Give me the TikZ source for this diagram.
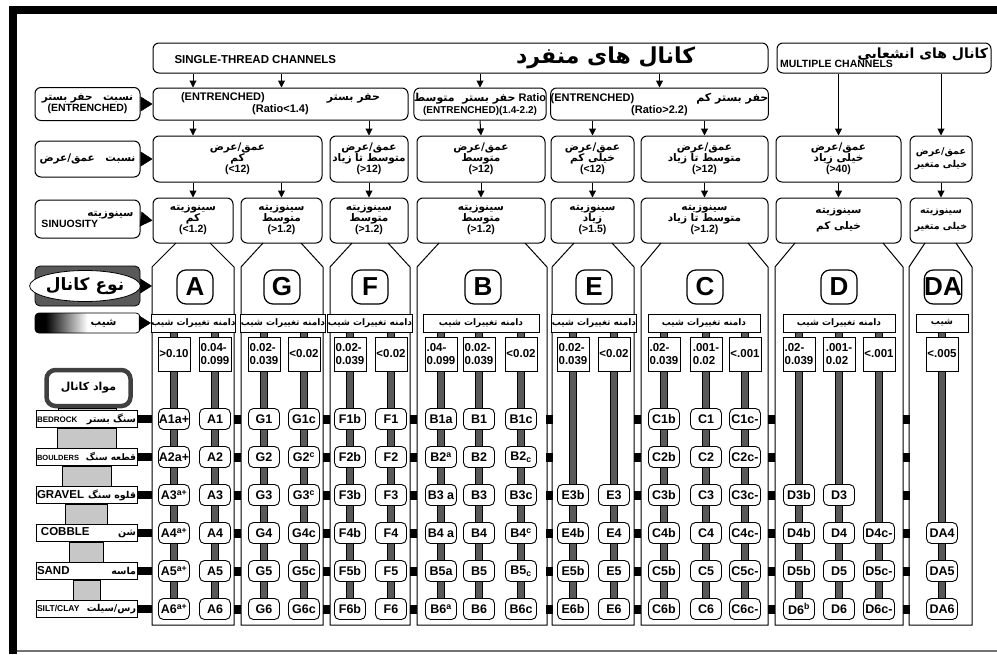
\documentclass[tikz,border=0pt]{standalone}
\usepackage{fontspec}
\setmainfont{Liberation Sans}
\newfontfamily\persianfont[Script=Arabic]{DejaVu Sans}
\TeXXeTstate=1
\newcommand{\prs}[1]{{\persianfont\beginR #1\endR}}
\usetikzlibrary{arrows.meta,positioning,shapes.geometric,backgrounds}
\pgfdeclarehorizontalshading{slopefade}{100bp}{color(0bp)=(black); color(30bp)=(black); color(50bp)=(white); color(100bp)=(white)}
\tikzset{
head_box/.style={draw, rounded corners=6pt, line width=1pt, minimum height=30pt, inner sep=0pt, align=center},
crit_box/.style={draw, rounded corners=6pt, line width=1pt, align=center, inner sep=0pt, font=\bfseries\fontsize{10.5}{11}\selectfont},
side_box/.style={draw, rounded corners=6pt, line width=1pt, minimum width=105pt, align=center, inner sep=0pt, font=\bfseries\fontsize{10.5}{11}\selectfont},
type_letter/.style={draw, rounded corners=9pt, line width=1.2pt, fill=white, minimum width=36pt, minimum height=34pt, inner sep=0pt, font=\bfseries\fontsize{26}{26}\selectfont},
range_box/.style={draw, line width=0.9pt, fill=white, minimum height=18pt, inner sep=0pt, font=\bfseries\fontsize{9}{9}\selectfont},
slope_box/.style={draw, line width=0.9pt, fill=white, minimum width=32pt, minimum height=34pt, inner sep=0pt, align=left, font=\bfseries\fontsize{11.5}{13}\selectfont},
stream_item/.style={draw, rounded corners=5pt, line width=0.9pt, fill=white, minimum width=31pt, minimum height=21pt, inner sep=0pt, font=\bfseries\fontsize{12.5}{12.5}\selectfont},
material/.style={draw, line width=0.9pt, fill=white, text width=99pt, minimum height=17pt, inner sep=1pt, align=left, font=\bfseries\fontsize{9.5}{10}\selectfont},
stem/.style={draw=black, line width=0.6pt, double=black!65, double distance=6pt},
gray_col/.style={draw, line width=0.6pt, fill=black!22},
arr/.style={-{Triangle[length=7pt,width=7pt]}, line width=1pt},
pointer/.style={-{Triangle[length=12pt,width=15pt]}, line width=0.5pt},
link_bar/.style={line width=8pt},
panel/.style={line width=1pt}
}

\begin{document}
\begin{tikzpicture}[x=1pt, y=-1pt, font=\bfseries]
    \useasboundingbox (0,0) rectangle (997,654);
    % frame
    \fill (10,6) rectangle (997,14);
    \fill (9,6) rectangle (17,654);
    \draw[black!55, line width=1.5pt] (17,651) -- (997,651);

    % channel groups
    \node[head_box, minimum width=615pt] (single) at (460.5,58) {\makebox[590pt][l]{\hspace*{9pt}\fontsize{11.5}{12}\selectfont SINGLE-THREAD CHANNELS\hspace{180pt}\fontsize{22}{22}\selectfont\prs{کانال های منفرد}}};
    \node[head_box, minimum width=214pt, right=8pt of single] (multi) {\makebox[208pt][r]{\fontsize{14}{14}\selectfont\prs{کانال های انشعابی}}\\[-3pt]\makebox[208pt][l]{\fontsize{10.5}{11}\selectfont MULTIPLE CHANNELS}};

    % entrenchment
    \node[side_box, minimum height=33pt] (lab_ent) at (87.5,104) {\prs{نسبت\quad حفر بستر}\\(ENTRENCHED)};
    \node[crit_box, minimum width=255pt, minimum height=32pt, font=\bfseries\fontsize{11}{12}\selectfont] (ent_1) at (280.5,104) {(ENTRENCHED)\hspace{62pt}\prs{حفر بستر}\\(Ratio<1.4)};
    \node[crit_box, minimum width=130pt, minimum height=32pt, font=\bfseries\fontsize{11}{12}\selectfont] (ent_2) at (480,104) {\prs{حفر بستر\ \ متوسط} Ratio\\{\fontsize{10}{11}\selectfont(ENTRENCHED)(1.4-2.2)}};
    \node[crit_box, minimum width=217pt, minimum height=32pt, font=\bfseries\fontsize{11}{12}\selectfont] (ent_3) at (659.5,104) {(ENTRENCHED)\hspace{62pt}\prs{حفر بستر کم}\\(Ratio>2.2)};

    % width / depth
    \node[side_box, minimum height=36pt] (lab_wd) at (87.5,159) {\prs{نسبت\quad عمق/عرض}};
    \node[crit_box, minimum width=169pt, minimum height=46pt] (wd_1) at (237.5,159) {\prs{عمق/عرض}\\\prs{کم}\\(<12)};
    \node[crit_box, minimum width=78pt, minimum height=46pt] (wd_2) at (369,159) {\prs{عمق/عرض}\\\prs{متوسط تا زیاد}\\(>12)};
    \node[crit_box, minimum width=128pt, minimum height=46pt] (wd_3) at (481,159) {\prs{عمق/عرض}\\\prs{متوسط}\\(>12)};
    \node[crit_box, minimum width=83pt, minimum height=46pt] (wd_4) at (592.5,159) {\prs{عمق/عرض}\\\prs{خیلی کم}\\(<12)};
    \node[crit_box, minimum width=127pt, minimum height=46pt] (wd_5) at (704.5,159) {\prs{عمق/عرض}\\\prs{متوسط تا زیاد}\\(>12)};
    \node[crit_box, minimum width=125pt, minimum height=46pt] (wd_6) at (838.5,159) {\prs{عمق/عرض}\\\prs{خیلی زیاد}\\(>40)};
    \node[crit_box, minimum width=62pt, minimum height=46pt, font=\bfseries\fontsize{9.5}{13}\selectfont] (wd_7) at (941,159) {\prs{عمق/عرض}\\\prs{خیلی متغیر}};

    % sinuosity
    \node[side_box, minimum height=38pt] (lab_sin) at (87.5,219) {\makebox[92pt][r]{\prs{سینوزیته}}\\\makebox[92pt][l]{SINUOSITY}};
    \node[crit_box, minimum width=80pt, minimum height=45pt] (sin_1) at (193,220.5) {\prs{سینوزیته}\\\prs{کم}\\(<1.2)};
    \node[crit_box, minimum width=81pt, minimum height=45pt] (sin_2) at (281.5,220.5) {\prs{سینوزیته}\\\prs{متوسط}\\(>1.2)};
    \node[crit_box, minimum width=78pt, minimum height=45pt] (sin_3) at (369,220.5) {\prs{سینوزیته}\\\prs{متوسط}\\(>1.2)};
    \node[crit_box, minimum width=128pt, minimum height=45pt] (sin_4) at (481,220.5) {\prs{سینوزیته}\\\prs{متوسط}\\(>1.2)};
    \node[crit_box, minimum width=83pt, minimum height=45pt] (sin_5) at (592.5,220.5) {\prs{سینوزیته}\\\prs{زیاد}\\(>1.5)};
    \node[crit_box, minimum width=127pt, minimum height=45pt] (sin_6) at (704.5,220.5) {\prs{سینوزیته}\\\prs{متوسط تا زیاد}\\(>1.2)};
    \node[crit_box, minimum width=125pt, minimum height=45pt] (sin_7) at (838.5,220.5) {\prs{سینوزیته}\\[5pt]\prs{خیلی کم}};
    \node[crit_box, minimum width=62pt, minimum height=45pt, font=\bfseries\fontsize{9.5}{11}\selectfont] (sin_8) at (941,220.5) {\prs{سینوزیته}\\[5pt]\prs{خیلی متغیر}};

    % arrows between levels
    \draw[arr] (single.south -| sin_1) -- (ent_1.north -| sin_1);
    \draw[arr] (single.south -| sin_2) -- (ent_1.north -| sin_2);
    \draw[arr] (single.south -| ent_2) -- (ent_2.north);
    \draw[arr] (single.south -| ent_3) -- (ent_3.north);
    \draw[arr] (multi.south -| wd_6) -- (wd_6.north);
    \draw[arr] (multi.south -| wd_7) -- (wd_7.north);
    \draw[arr] (ent_1.south -| sin_1) -- (wd_1.north -| sin_1);
    \draw[arr] (ent_1.south -| wd_2) -- (wd_2.north);
    \draw[arr] (ent_2.south) -- (wd_3.north);
    \draw[arr] (ent_3.south -| wd_4) -- (wd_4.north);
    \draw[arr] (ent_3.south -| wd_5) -- (wd_5.north);
    \draw[arr] (wd_1.south -| sin_1) -- (sin_1.north);
    \draw[arr] (wd_1.south -| sin_2) -- (sin_2.north);
    \foreach \w/\s in {2/3,3/4,4/5,5/6,6/7,7/8}
        \draw[arr] (wd_\w.south -| sin_\s) -- (sin_\s.north);
    \draw[pointer] (lab_ent.east) -- (ent_1.west);
    \draw[pointer] (lab_wd.east) -- (wd_1.west);
    \draw[pointer] (lab_sin.east) -- (sin_1.west);

    % channel type panels
    \foreach \l/\r/\d in {152/234/24, 241/323/22, 330/410/22, 417/547/22, 552/634/22, 641/768/20, 775/903/20, 909/972/16}
        \draw[panel] (\l+\d,243) -- (\l,267) -- (\l,625) -- (\r,625) -- (\r,267) -- (\r-\d,243);
    \coordinate (pa_l) at (152,419);

    \node[type_letter] (typ_a) at (195,287) {A};
    \node[type_letter] (typ_g) at (282,287) {G};
    \node[type_letter] (typ_f) at (370,287) {F};
    \node[type_letter] (typ_b) at (483,287) {B};
    \node[type_letter] (typ_e) at (594,287) {E};
    \node[type_letter] (typ_c) at (705,287) {C};
    \node[type_letter] (typ_d) at (839,287) {D};
    \node[type_letter] (typ_da) at (943,287) {DA};

    \node[range_box, minimum width=73pt] (rng_a) at (193.5,323) {\prs{دامنه تغییرات شیب}};
    \node[range_box, minimum width=74pt] (rng_g) at (283,323) {\prs{دامنه تغییرات شیب}};
    \node[range_box, minimum width=72pt] (rng_f) at (370,323) {\prs{دامنه تغییرات شیب}};
    \node[range_box, minimum width=116pt] (rng_b) at (481,323) {\prs{دامنه تغییرات شیب}};
    \node[range_box, minimum width=74pt] (rng_e) at (594,323) {\prs{دامنه تغییرات شیب}};
    \node[range_box, minimum width=112pt] (rng_c) at (704,323) {\prs{دامنه تغییرات شیب}};
    \node[range_box, minimum width=112pt] (rng_d) at (839,323) {\prs{دامنه تغییرات شیب}};
    \node[range_box, minimum width=52pt] (rng_da) at (942,323) {\prs{شیب}};

    \node[slope_box] (sl_a1) at (174,354) {>0.10};
    \node[slope_box] (sl_a2) at (215,354) {0.04-\\0.099};
    \node[slope_box] (sl_g1) at (264,354) {0.02-\\0.039};
    \node[slope_box] (sl_g2) at (304,354) {<0.02};
    \node[slope_box] (sl_f1) at (350,354) {0.02-\\0.039};
    \node[slope_box] (sl_f2) at (391,354) {<0.02};
    \node[slope_box] (sl_b1) at (441,354) {.04-\\0.099};
    \node[slope_box] (sl_b2) at (479,354) {0.02-\\0.039};
    \node[slope_box] (sl_b3) at (521,354) {<0.02};
    \node[slope_box] (sl_e1) at (573,354) {0.02-\\0.039};
    \node[slope_box] (sl_e2) at (614,354) {<0.02};
    \node[slope_box] (sl_c1) at (664,354) {.02-\\0.039};
    \node[slope_box] (sl_c2) at (706,354) {.001-\\0.02};
    \node[slope_box] (sl_c3) at (745,354) {<.001};
    \node[slope_box] (sl_d1) at (799,354) {.02-\\0.039};
    \node[slope_box] (sl_d2) at (839,354) {.001-\\0.02};
    \node[slope_box] (sl_d3) at (879,354) {<.001};
    \node[slope_box] (sl_da) at (942,354) {<.005};

    % stream types
    \foreach \r/\t in {1/A1a+, 2/A2a+, 3/A3\textsuperscript{a+}, 4/A4\textsuperscript{a+}, 5/A5\textsuperscript{a+}, 6/A6\textsuperscript{a+}}
        \node[stream_item] (a1_\r) at (174,{381+38*\r}) {\t};
    \foreach \r in {1,...,6} {
        \node[stream_item] (a2_\r) at (215,{381+38*\r}) {A\r};
        \node[stream_item] (g1_\r) at (264,{381+38*\r}) {G\r};
        \node[stream_item] (f1_\r) at (350,{381+38*\r}) {F\r b};
        \node[stream_item] (f2_\r) at (391,{381+38*\r}) {F\r};
        \node[stream_item] (b2_\r) at (479,{381+38*\r}) {B\r};
        \node[stream_item] (c1_\r) at (664,{381+38*\r}) {C\r b};
        \node[stream_item] (c2_\r) at (706,{381+38*\r}) {C\r};
        \node[stream_item] (c3_\r) at (745,{381+38*\r}) {C\r c-};
    }
    \foreach \r/\t in {1/G1c, 2/G2\textsuperscript{c}, 3/G3\textsuperscript{c}, 4/G4c, 5/G5c, 6/G6c}
        \node[stream_item] (g2_\r) at (304,{381+38*\r}) {\t};
    \foreach \r/\t in {1/B1a, 2/B2\textsuperscript{a}, 3/B3 a, 4/B4 a, 5/B5a, 6/B6\textsuperscript{a}}
        \node[stream_item] (b1_\r) at (441,{381+38*\r}) {\t};
    \foreach \r/\t in {1/B1c, 2/B2\textsubscript{c}, 3/B3c, 4/B4\textsuperscript{c}, 5/B5\textsubscript{c}, 6/B6c}
        \node[stream_item] (b3_\r) at (521,{381+38*\r}) {\t};
    \foreach \r in {3,...,6} {
        \node[stream_item] (e1_\r) at (573,{381+38*\r}) {E\r b};
        \node[stream_item] (e2_\r) at (614,{381+38*\r}) {E\r};
        \node[stream_item] (d2_\r) at (839,{381+38*\r}) {D\r};
    }
    \foreach \r/\t in {3/D3b, 4/D4b, 5/D5b, 6/D6\textsuperscript{b}}
        \node[stream_item] (d1_\r) at (799,{381+38*\r}) {\t};
    \foreach \r in {4,5,6} {
        \node[stream_item] (d3_\r) at (879,{381+38*\r}) {D\r c-};
        \node[stream_item] (da_\r) at (942,{381+38*\r}) {DA\r};
    }

    \begin{scope}[on background layer]
        \foreach \s/\g in {a1/a, a2/a, g1/g, g2/g, f1/f, f2/f, b1/b, b2/b, b3/b, e1/e, e2/e, c1/c, c2/c, c3/c, d1/d, d2/d, d3/d, da/da}
            \draw[stem] (rng_\g.south -| sl_\s) -- (\s_6);
    \end{scope}

    % links between panels
    \foreach \x in {237.5, 326.5, 413.5, 549.5, 637.5, 771.5, 906}
        \foreach \r in {1,...,6}
            \fill (\x-3.5,{381+38*\r-4.5}) rectangle ++(7,9);

    % left legend
    \node[draw, rounded corners=5pt, fill=black!65, minimum width=105pt, minimum height=40pt, line width=0.8pt] (typ_bg) at (87.5,286) {};
    \node[ellipse, draw, fill=white, line width=0.8pt, minimum width=96pt, minimum height=31pt, inner sep=0pt, font=\bfseries\fontsize{17}{17}\selectfont] (typ_lab) at (85,286) {\prs{نوع کانال}};
    \draw[pointer] (typ_bg.east) -- (typ_bg.east -| pa_l);
    \node[draw, rounded corners=4pt, shade, shading=slopefade, minimum width=105pt, minimum height=20pt, line width=0.8pt, inner sep=0pt, font=\bfseries\fontsize{10.5}{11}\selectfont] (slope_lab) at (87.5,323) {\hspace*{32pt}\prs{شیب}};
    \draw[pointer] (slope_lab.east) -- (rng_a.west);
    \node[draw=black!75, line width=4.5pt, rounded corners=9pt, fill=white, minimum width=84pt, minimum height=36pt, font=\bfseries\fontsize{11}{12}\selectfont] (mawad) at (88.5,388) {\prs{مواد کانال}};

    \node[material] (mat_1) at (86.5,419) {{\fontsize{8}{9}\selectfont BEDROCK}\hfill\prs{سنگ بستر}};
    \node[material] (mat_2) at (86.5,457) {{\fontsize{7.5}{9}\selectfont BOULDERS}\hfill{\fontsize{9}{9}\selectfont\prs{قطعه سنگ}}};
    \node[material] (mat_3) at (86.5,495) {{\fontsize{11.5}{12}\selectfont GRAVEL}\hfill\prs{قلوه سنگ}};
    \node[material] (mat_4) at (86.5,533) {\hspace*{4pt}{\fontsize{11.5}{12}\selectfont COBBLE}\hfill\prs{شن}\hspace*{8pt}};
    \node[material] (mat_5) at (86.5,571) {{\fontsize{11.5}{12}\selectfont SAND}\hfill\prs{ماسه}\hspace*{8pt}};
    \node[material] (mat_6) at (86.5,609) {{\fontsize{8.5}{9}\selectfont SILT/CLAY}\hfill\prs{رس/سیلت}};
    \filldraw[gray_col] ([xshift=-30pt]mawad.south) rectangle ([xshift=30pt]mat_1.north);
    \foreach \i/\j/\w in {1/2/29.5, 2/3/24.5, 3/4/21, 4/5/17, 5/6/13.5}
        \filldraw[gray_col] ([xshift=-\w pt]mat_\i.south) rectangle ([xshift=\w pt]mat_\j.north);
    \foreach \r in {1,...,6}
        \draw[link_bar] (mat_\r.east) -- (mat_\r.east -| pa_l);
\end{tikzpicture}
\end{document}
